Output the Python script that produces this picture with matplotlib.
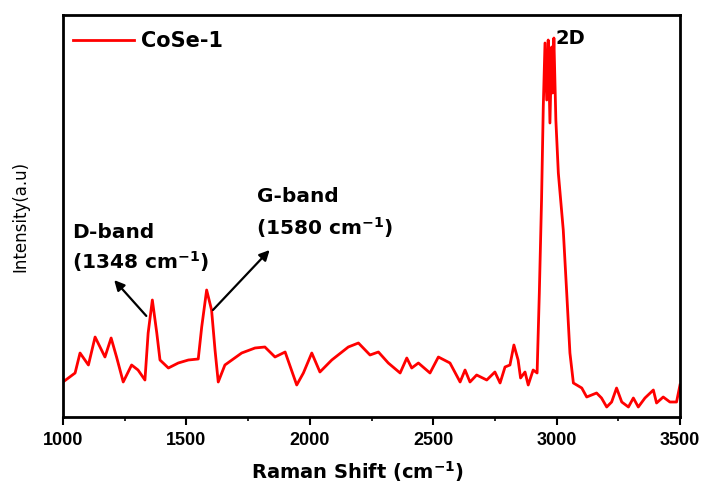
import matplotlib
matplotlib.use("Agg")
import matplotlib.pyplot as plt
import numpy as np
from matplotlib.ticker import MultipleLocator

plt.rcParams['font.family'] = ['Liberation Sans', 'DejaVu Sans']
plt.rcParams['mathtext.fontset'] = 'dejavusans'

raman_shift = [1000, 1049, 1069, 1103, 1130, 1170, 1195, 1217, 1244, 1278, 1304, 1332,
               1345, 1362, 1380, 1393, 1427, 1467, 1508, 1548, 1562, 1582, 1602, 1616,
               1629, 1656, 1724, 1778, 1818, 1859, 1900, 1947, 1974, 2008, 2041, 2089,
               2156, 2197, 2244, 2278, 2318, 2366, 2393, 2413, 2440, 2487, 2521, 2568,
               2609, 2629, 2649, 2676, 2717, 2750, 2771, 2791, 2811, 2827, 2844, 2854,
               2872, 2885, 2905, 2921, 2930, 2939, 2946, 2953, 2960, 2966, 2973, 2980,
               2984, 2989, 2997, 3007, 3027, 3041, 3054, 3068, 3102, 3122, 3162, 3182,
               3203, 3223, 3243, 3264, 3291, 3311, 3331, 3358, 3392, 3405, 3432, 3459,
               3486, 3500]
pixel_rows = [382, 373, 353, 365, 337, 357, 338, 357, 382, 365, 370, 380,
              333, 300, 333, 360, 368, 363, 360, 359, 327, 290, 310, 350,
              382, 365, 353, 348, 347, 357, 352, 385, 373, 353, 372, 360,
              347, 343, 355, 352, 363, 373, 358, 368, 363, 373, 357, 363,
              382, 370, 382, 375, 380, 372, 383, 367, 365, 345, 360, 378,
              372, 385, 370, 373, 293, 200, 107, 43, 100, 40, 123, 47,
              93, 38, 120, 173, 230, 293, 353, 383, 388, 397, 393, 398,
              407, 402, 388, 402, 407, 398, 407, 398, 390, 403, 397, 402,
              402, 385]
intensity = [417 - p for p in pixel_rows]

BOLD = dict(family=['DejaVu Sans'], fontweight='bold')

fig = plt.figure(figsize=(7.09, 4.87), dpi=100)
ax = fig.add_axes([63/709, 70/487, 617/709, 402/487])
ax.plot(raman_shift, intensity, color='#ff0000', lw=2.0, label='CoSe-1')
ax.set_xlim(1000, 3500)
ax.set_ylim(0, 402)
ax.set_yticks([])
ax.xaxis.set_major_locator(MultipleLocator(500))
ax.xaxis.set_minor_locator(MultipleLocator(250))
ax.tick_params(axis='x', which='major', direction='out', length=6, width=1.5,
               labelsize=13, pad=5)
ax.tick_params(axis='x', which='minor', direction='out', length=3, width=1.2)
for lbl in ax.get_xticklabels():
    lbl.set_fontweight('bold')
for s in ax.spines.values():
    s.set_linewidth(2)

ax.set_xlabel('Raman Shift (cm$^{\\mathbf{-1}}$)', fontsize=14, labelpad=7, **BOLD)
ax.xaxis.label.set_x((358 - 63) / 617)
ax.set_ylabel('Intensity(a.u)', fontsize=12, family=['DejaVu Sans'])
ax.yaxis.set_label_coords(-(63 - 29) / 617, 0.5)

leg = ax.legend(loc='upper left', bbox_to_anchor=(0, 0.985), frameon=False,
                prop={'weight': 'bold', 'size': 15, 'family': 'DejaVu Sans'},
                handlelength=2.9, borderaxespad=0.1, handletextpad=0.35)

ax.annotate('', xy=(1200, 417 - 278), xytext=(1345, 417 - 318),
            arrowprops=dict(arrowstyle='-|>', color='black', lw=1.6, mutation_scale=15))
ax.annotate('', xy=(1845, 417 - 248), xytext=(1600, 417 - 312),
            arrowprops=dict(arrowstyle='-|>', color='black', lw=1.6, mutation_scale=15))
ax.text(1037, 417 - 232, 'D-band', fontsize=14.5, va='center', ha='left', **BOLD)
ax.text(1037, 417 - 262, '(1348 cm$^{\\mathbf{-1}}$)', fontsize=14.5, va='center', ha='left', **BOLD)
ax.text(1785, 417 - 197, 'G-band', fontsize=14.5, va='center', ha='left', **BOLD)
ax.text(1782, 417 - 228, '(1580 cm$^{\\mathbf{-1}}$)', fontsize=14.5, va='center', ha='left', **BOLD)
ax.text(2995, 417 - 38, '2D', fontsize=14, va='center', ha='left', **BOLD)

fig.savefig('out.png', dpi=100)
